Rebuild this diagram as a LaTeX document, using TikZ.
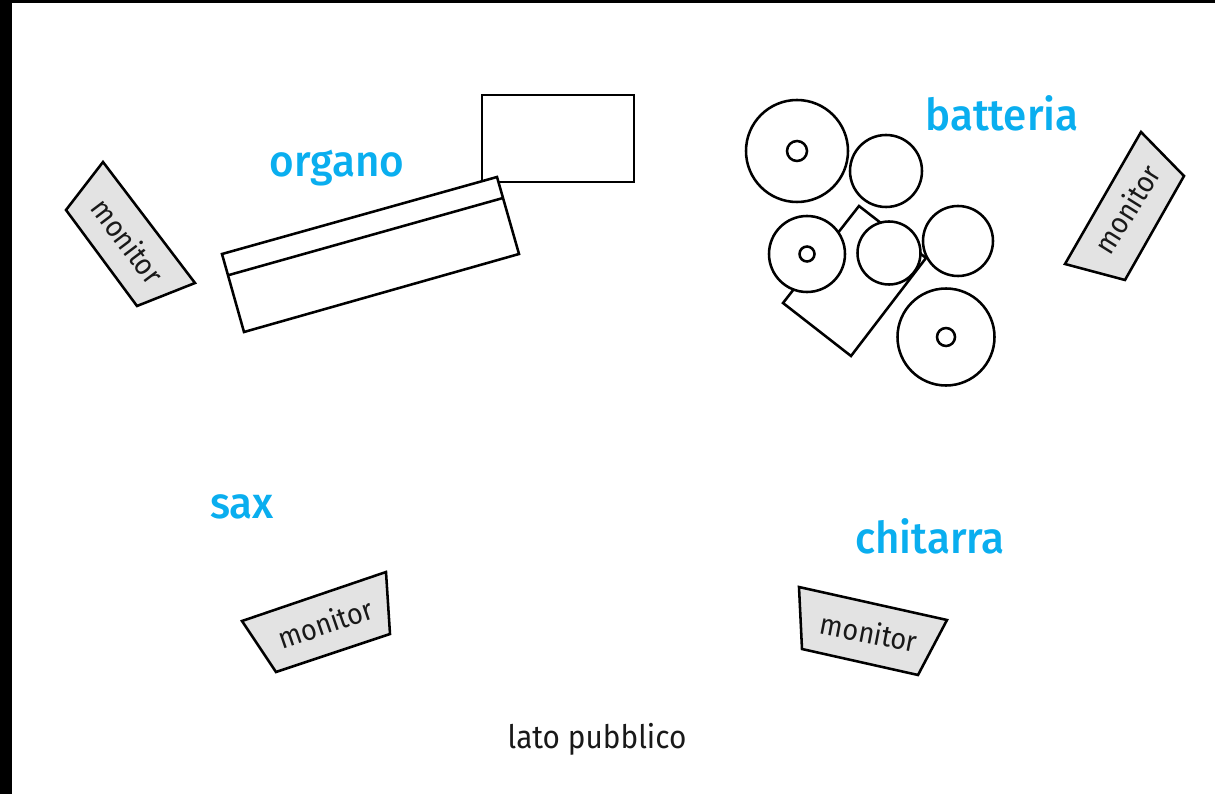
\documentclass[tikz,border=0pt]{standalone}
\usepackage{fontspec}
\setmainfont[FakeStretch=0.92]{Fira Sans}
\newfontfamily\bandfont[FakeStretch=0.96]{Fira Sans Medium}
\definecolor{labelblue}{HTML}{0AAEEF}
\definecolor{monitorgrey}{HTML}{E3E3E3}
\tikzset{
  gear/.style={draw=black, line width=1.45pt, fill=white},
  monitorbox/.style={draw=black, line width=1.45pt, fill=monitorgrey, line join=miter},
  monitortext/.style={font=\fontsize{16.7}{19}\selectfont, text=black!90},
  band/.style={font=\bandfont\fontsize{25}{29}\selectfont, text=labelblue}
}
\begin{document}
\begin{tikzpicture}[x=0.02cm, y=-0.02cm]
        \useasboundingbox (0,0) rectangle (1215,794);

        % Black edges of the page
        \fill[black] (0,0) rectangle (1215,3.5);
        \fill[black] (0,0) rectangle (12,794);

        % Draw the amplifier behind the organ
        \draw[gear] (482,95) rectangle (634,182);

        % Draw the organ
        \draw[gear] (222,254) -- (497,177) -- (519,254) -- (244,332) -- cycle;
        \draw[gear] (229,275) -- (503,198);

        % Draw the drum stool
        \draw[gear] (859,206) -- (926,258) -- (851,356) -- (783,303) -- cycle;

        % Draw the drums
        \draw[gear] (797,151) circle (51);
        \draw[gear] (797,151) circle (10);
        \draw[gear] (886,171) circle (36);
        \draw[gear] (807,254) circle (38);
        \draw[gear] (807,254) circle (7.5);
        \draw[gear] (889,253) circle (31.5);
        \draw[gear] (958,241) circle (35);
        \draw[gear] (946,337) circle (48.5);
        \draw[gear] (946,337) circle (9);

        % Draw the monitors
        \draw[monitorbox] (103,162) -- (66,210) -- (137,306) -- (195,283) -- cycle;
        \draw[monitorbox] (1141,132) -- (1184,176) -- (1125,280) -- (1065,264) -- cycle;
        \draw[monitorbox] (386,572) -- (242,621) -- (276,672) -- (390,634) -- cycle;
        \draw[monitorbox] (799,587) -- (947,620) -- (918,675) -- (802,649) -- cycle;

        % Label the monitors
        \node[monitortext, rotate=-53] (monitorleft) at (128,241) {monitor};
        \node[monitortext, rotate=58] (monitorright) at (1127,209) {monitor};
        \node[monitortext, rotate=19] (monitorsax) at (325,623) {monitor};
        \node[monitortext, rotate=-11] (monitorguitar) at (869,632) {monitor};

        % Label the players
        \node[band] (organo) at (337,168) {organo};
        \node[band] (batteria) at (1002,113) {batteria};
        \node[band] (sax) at (242,507) {sax};
        \node[band] (chitarra) at (930,536) {chitarra};

        % Label the audience side
        \node[font=\fontsize{18.4}{21}\selectfont, text=black!90] (pubblico) at (597,739) {lato pubblico};
    \end{tikzpicture}
\end{document}
